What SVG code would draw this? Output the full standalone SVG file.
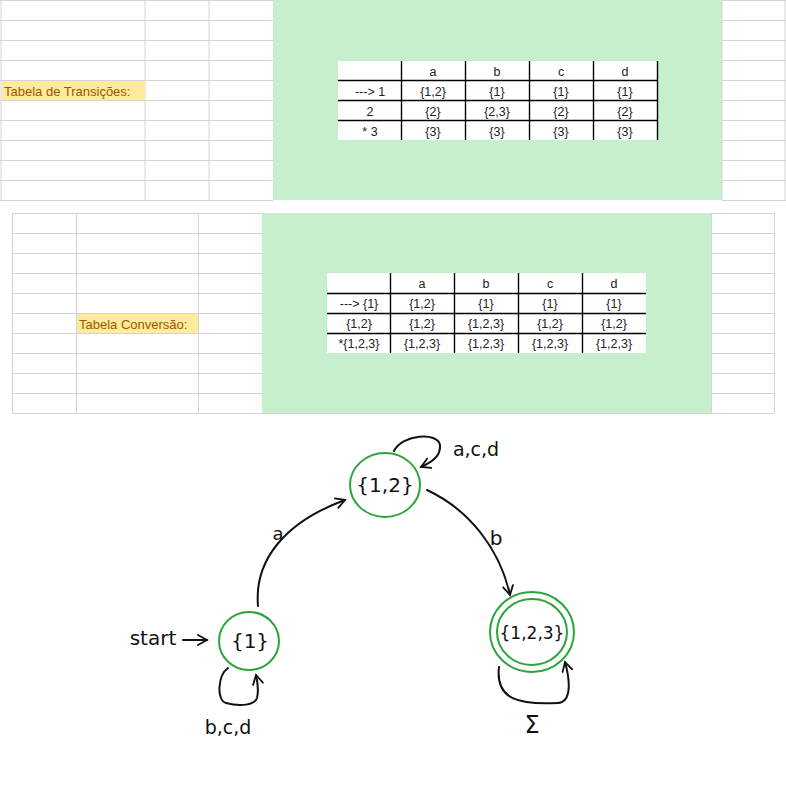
<svg xmlns="http://www.w3.org/2000/svg" width="786" height="800" viewBox="0 0 786 800">
<defs>
<style>
.grid{stroke:#d4d4d4;stroke-width:1;fill:none}
.good{fill:#c6efce}
.neutral{fill:#ffeb9c}
.ntext{font-family:"Liberation Sans",Arial,sans-serif;font-size:13px;fill:#9c5700}
.tbl{fill:#ffffff}
.tline{stroke:#000;stroke-width:1.4;fill:none}
.cell{font-family:"Liberation Sans",Arial,sans-serif;font-size:12.5px;fill:#222;text-anchor:middle}
.state{fill:none;stroke:#2aa43a;stroke-width:2}
.hand{font-family:"DejaVu Sans",sans-serif;fill:#111;text-anchor:middle}
.edge{fill:none;stroke:#111;stroke-width:2;stroke-linecap:round}
</style>
<marker id="ah" viewBox="0 0 12 12" refX="10" refY="6" markerWidth="12" markerHeight="12" markerUnits="userSpaceOnUse" orient="auto">
<path d="M1,1 L10,6 L1,11" fill="none" stroke="#111" stroke-width="1.8" stroke-linecap="round"/>
</marker>
</defs>
<rect width="786" height="800" fill="#fff"/>

<g id="sheet1">
<rect class="good" x="273" y="0" width="449" height="200"/>
<path class="grid" d="M1,0V200M145,0V200M209,0V200M722,0V200M785,0V200
M0,0.5H273M0,20.5H273M0,40.5H273M0,60.5H273M0,80.5H273M0,100.5H273M0,120.5H273M0,140.5H273M0,160.5H273M0,180.5H273M0,200.5H273
M722,0.5H786M722,20.5H786M722,40.5H786M722,60.5H786M722,80.5H786M722,100.5H786M722,120.5H786M722,140.5H786M722,160.5H786M722,180.5H786M722,200.5H786"/>
<rect class="neutral" x="2" y="81" width="143" height="19"/>
<text class="ntext" x="4" y="96">Tabela de Transições:</text>
</g>

<g id="table1">
<rect class="tbl" x="338" y="61" width="320" height="79"/>
<path class="tline" d="M338,80.5H658M338,100.5H658M338,120.5H658M401.5,61V140M465.5,61V140M529.5,61V140M593.5,61V140M657.5,61V140"/>
<text class="cell" x="433" y="76">a</text><text class="cell" x="497" y="76">b</text><text class="cell" x="561" y="76">c</text><text class="cell" x="625" y="76">d</text>
<text class="cell" x="370" y="96">---&gt; 1</text><text class="cell" x="433" y="96">{1,2}</text><text class="cell" x="497" y="96">{1}</text><text class="cell" x="561" y="96">{1}</text><text class="cell" x="625" y="96">{1}</text>
<text class="cell" x="370" y="116">2</text><text class="cell" x="433" y="116">{2}</text><text class="cell" x="497" y="116">{2,3}</text><text class="cell" x="561" y="116">{2}</text><text class="cell" x="625" y="116">{2}</text>
<text class="cell" x="370" y="136">* 3</text><text class="cell" x="433" y="136">{3}</text><text class="cell" x="497" y="136">{3}</text><text class="cell" x="561" y="136">{3}</text><text class="cell" x="625" y="136">{3}</text>
</g>

<g id="sheet2">
<rect class="good" x="262" y="213" width="449" height="200"/>
<path class="grid" d="M12.5,213V413M76.5,213V413M198.5,213V413M711.5,213V413M774.5,213V413
M12,213.5H262M12,233.5H262M12,253.5H262M12,273.5H262M12,293.5H262M12,313.5H262M12,333.5H262M12,353.5H262M12,373.5H262M12,393.5H262M12,413.5H774
M711,213.5H774M711,233.5H774M711,253.5H774M711,273.5H774M711,293.5H774M711,313.5H774M711,333.5H774M711,353.5H774M711,373.5H774M711,393.5H774"/>
<rect class="neutral" x="77" y="314" width="121" height="19"/>
<text class="ntext" x="79" y="329">Tabela Conversão:</text>
</g>

<g id="table2">
<rect class="tbl" x="327" y="273" width="319" height="80"/>
<path class="tline" d="M327,293.5H646M327,313.5H646M327,333.5H646M390.5,273V353M454.5,273V353M518.5,273V353M582.5,273V353"/>
<text class="cell" x="422" y="288">a</text><text class="cell" x="486" y="288">b</text><text class="cell" x="550" y="288">c</text><text class="cell" x="614" y="288">d</text>
<text class="cell" x="359" y="308">---&gt; {1}</text><text class="cell" x="422" y="308">{1,2}</text><text class="cell" x="486" y="308">{1}</text><text class="cell" x="550" y="308">{1}</text><text class="cell" x="614" y="308">{1}</text>
<text class="cell" x="359" y="328">{1,2}</text><text class="cell" x="422" y="328">{1,2}</text><text class="cell" x="486" y="328">{1,2,3}</text><text class="cell" x="550" y="328">{1,2}</text><text class="cell" x="614" y="328">{1,2}</text>
<text class="cell" x="359" y="348">*{1,2,3}</text><text class="cell" x="422" y="348">{1,2,3}</text><text class="cell" x="486" y="348">{1,2,3}</text><text class="cell" x="550" y="348">{1,2,3}</text><text class="cell" x="614" y="348">{1,2,3}</text>
</g>

<g id="connectors">
<path class="edge" d="M183,640H207" marker-end="url(#ah)"/>
<path class="edge" d="M258,606 C254,560 285,522 345,500" marker-end="url(#ah)"/>
<path class="edge" d="M394,451 C402,434 438,432 440,445 C441,456 432,462 421,467" marker-end="url(#ah)"/>
<path class="edge" d="M427,490 C470,510 500,550 510,595" marker-end="url(#ah)"/>
<path class="edge" d="M499,667 C495,700 520,705 558,703 C572,702 570,680 565,662" marker-end="url(#ah)"/>
<path class="edge" d="M228,668 C218,675 216,700 226,703 C240,707 255,705 257,698 C259,690 258,684 256,675" marker-end="url(#ah)"/>
<text class="hand" x="153" y="645" font-size="20">start</text>
<text class="hand" x="278" y="540" font-size="18">a</text>
<text class="hand" x="476" y="456" font-size="19">a,c,d</text>
<text class="hand" x="496" y="545" font-size="20">b</text>
<text class="hand" x="532" y="733" font-size="24">Σ</text>
<text class="hand" x="228" y="734" font-size="19">b,c,d</text>
</g>

<g id="s12">
<ellipse class="state" cx="385" cy="485" rx="35" ry="32"/>
<text class="hand" x="385" y="492" font-size="20">{1,2}</text>
</g>
<g id="s1">
<ellipse class="state" cx="249" cy="641" rx="30" ry="29"/>
<text class="hand" x="250" y="648" font-size="20">{1}</text>
</g>
<g id="s123">
<ellipse class="state" cx="532" cy="632" rx="42" ry="40"/>
<ellipse class="state" cx="532" cy="632" rx="35" ry="33"/>
<text class="hand" x="532" y="639" font-size="17">{1,2,3}</text>
</g>
</svg>
